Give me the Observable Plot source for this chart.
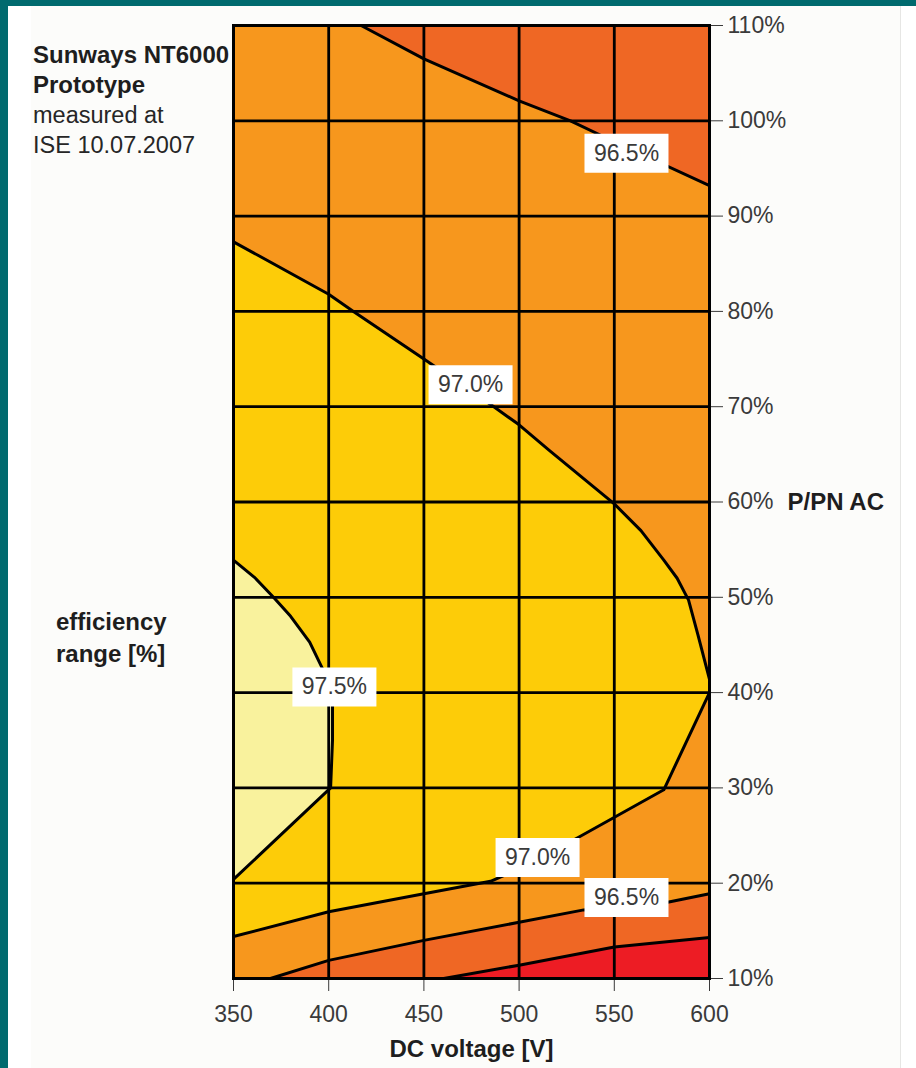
<!DOCTYPE html>
<html>
<head>
<meta charset="utf-8">
<script src="https://cdn.jsdelivr.net/npm/d3@7"></script>
<script src="https://cdn.jsdelivr.net/npm/@observablehq/plot@0.6"></script>
<style>
  html, body { margin: 0; padding: 0; background: #ffffff; }
  #page { position: relative; width: 916px; height: 1068px; overflow: hidden; background: #ffffff;
          font-family: "Liberation Sans", Arial, Helvetica, sans-serif; }
  #teal-left { position: absolute; left: 0; top: 0; width: 8px; height: 1068px; background: #006a6e; }
  #teal-top { position: absolute; left: 0; top: 0; width: 916px; height: 6px; background: #006a6e; }
  #panel { position: absolute; left: 31px; top: 6px; width: 869px; height: 1062px; background: #fcfcfa;
           border-right: 1px solid #e6e6e4; }
  #chart { position: absolute; left: 0; top: 0; }
  .note { position: absolute; font-size: 23.5px; line-height: 30px; color: #262626; }
  .note b { font-weight: bold; font-size: 24px; color: #1e1e1e; }
</style>
</head>
<body>
<div id="page">
  <div id="teal-left"></div>
  <div id="teal-top"></div>
  <div id="panel"></div>
  <div class="note" style="left:33px; top:40px;"><b>Sunways NT6000</b><br><b>Prototype</b><br>measured at<br>ISE 10.07.2007</div>
  <div class="note" style="left:56px; top:606px; line-height:31px;"><b>efficiency</b><br><b>range [%]</b></div>
  <div id="chart"></div>
</div>
<script>
// ---- axis ticks ----
const voltTicks = [350, 400, 450, 500, 550, 600];
const powerTicks = [10, 20, 30, 40, 50, 60, 70, 80, 90, 100, 110];

// ---- contour lines (DC voltage [V], P/PN AC [%]) ----
// 96.5 % contour, upper right
const c965TopV = [417, 450, 500, 527, 550, 600];
const c965TopP = [110, 106.5, 102.1, 100, 97.8, 93.2];
// 97.0 % contour (from left edge low, round the right side, back to left edge high)
const c970V = [350, 400, 450, 485, 500, 531, 576, 600, 600, 594, 589, 583, 576, 564, 550, 516, 500, 486, 450, 413, 400, 350];
const c970P = [14.4, 17.0, 18.9, 20.2, 21.5, 24.8, 29.8, 40.0, 41.4, 46.0, 49.7, 52.0, 53.9, 57.0, 59.8, 65.4, 68.1, 70.1, 75.0, 80.0, 81.8, 87.3];
// 97.5 % contour (left)
const c975V = [350, 401, 402, 402, 398, 390, 380, 371, 361, 350];
const c975P = [20.4, 30.0, 35.0, 39.0, 42.0, 45.3, 48.0, 50.0, 52.1, 53.9];
// 96.5 % contour, bottom
const c965LowV = [369.4, 400, 450, 500, 534, 578, 600];
const c965LowP = [10, 11.9, 14.0, 15.9, 17.2, 18.0, 18.9];
// 96.0 % contour, bottom right
const c960V = [460.4, 500, 550, 600];
const c960P = [10, 11.4, 13.3, 14.3];

// ---- contour labels ----
const labelText = ["96.5%", "97.0%", "97.5%", "97.0%", "96.5%"];
const labelV = [556.4, 474.5, 403, 509.7, 556.4];
const labelP = [96.6, 72.3, 40.6, 22.7, 18.5];

// ---- colours of the efficiency bands ----
const colOrange = "#f7971d";
const colDarkOrange = "#ef6724";
const colRed = "#ed1c24";
const colGold = "#fdcc08";
const colPale = "#f9f29d";

const toRows = (vs, ps) => vs.map((v, i) => ({v, p: ps[i]}));
const top965 = toRows(c965TopV, c965TopP);
const c970 = toRows(c970V, c970P);
const c975 = toRows(c975V, c975P);
const low965 = toRows(c965LowV, c965LowP);
const c960 = toRows(c960V, c960P);
const labels = labelText.map((t, i) => ({t, v: labelV[i], p: labelP[i]}));

const vMin = voltTicks[0], vMax = voltTicks[voltTicks.length - 1];
const pMin = powerTicks[0], pMax = powerTicks[powerTicks.length - 1];

const boxSymbol = { draw(ctx) { ctx.rect(-42, -19.5, 84, 39); } };

const plot = Plot.plot({
  width: 916,
  height: 1068,
  marginLeft: 233,
  marginRight: 207,
  marginTop: 25,
  marginBottom: 90,
  style: { background: "transparent", fontSize: "23px", fontFamily: "Liberation Sans, Arial, Helvetica, sans-serif", color: "#3a3a3a" },
  x: { domain: [vMin, vMax], ticks: voltTicks, tickSize: 13, tickPadding: 14, label: null },
  y: { domain: [pMin, pMax], ticks: powerTicks, axis: "right", tickSize: 13, tickPadding: 5, tickFormat: d => d + "%", label: null },
  marks: [
    // base band 96.5–97.0
    Plot.rect([0], { x1: vMin, x2: vMax, y1: pMin, y2: pMax, fill: colOrange }),
    // < 96.5 upper right
    Plot.areaY(top965, { x: "v", y1: "p", y2: pMax, fill: colDarkOrange }),
    // < 96.5 bottom
    Plot.areaY(low965, { x: "v", y1: pMin, y2: "p", fill: colDarkOrange }),
    // < 96.0 bottom right
    Plot.areaY(c960, { x: "v", y1: pMin, y2: "p", fill: colRed }),
    // 97.0–97.5
    Plot.areaX(c970, { y: "p", x1: vMin, x2: "v", fill: colGold }),
    // > 97.5
    Plot.areaX(c975, { y: "p", x1: vMin, x2: "v", fill: colPale }),
    // grid
    Plot.ruleX(voltTicks, { stroke: "#000", strokeWidth: 2.8 }),
    Plot.ruleY(powerTicks, { stroke: "#000", strokeWidth: 2.8 }),
    // contour lines
    Plot.line(top965, { x: "v", y: "p", stroke: "#000", strokeWidth: 3 }),
    Plot.line(c970, { x: "v", y: "p", stroke: "#000", strokeWidth: 3 }),
    Plot.line(c975, { x: "v", y: "p", stroke: "#000", strokeWidth: 3 }),
    Plot.line(low965, { x: "v", y: "p", stroke: "#000", strokeWidth: 3 }),
    Plot.line(c960, { x: "v", y: "p", stroke: "#000", strokeWidth: 3 }),
    Plot.frame({ stroke: "#000", strokeWidth: 3 }),
    // contour labels
    Plot.dot(labels, { x: "v", y: "p", symbol: boxSymbol, fill: "#ffffff", stroke: null }),
    Plot.text(labels, { x: "v", y: "p", text: "t", fill: "#3a3a3a", fontSize: 23 }),
    // axis titles
    Plot.text(["P/PN AC"], { frameAnchor: "right", y: [60], dx: 78, textAnchor: "start", fontWeight: "bold", fill: "#1e1e1e", fontSize: 24 }),
    Plot.text(["DC voltage [V]"], { frameAnchor: "bottom", dy: 78, fontWeight: "bold", fill: "#1e1e1e", fontSize: 24 })
  ]
});
document.getElementById("chart").appendChild(plot);
</script>
</body>
</html>
